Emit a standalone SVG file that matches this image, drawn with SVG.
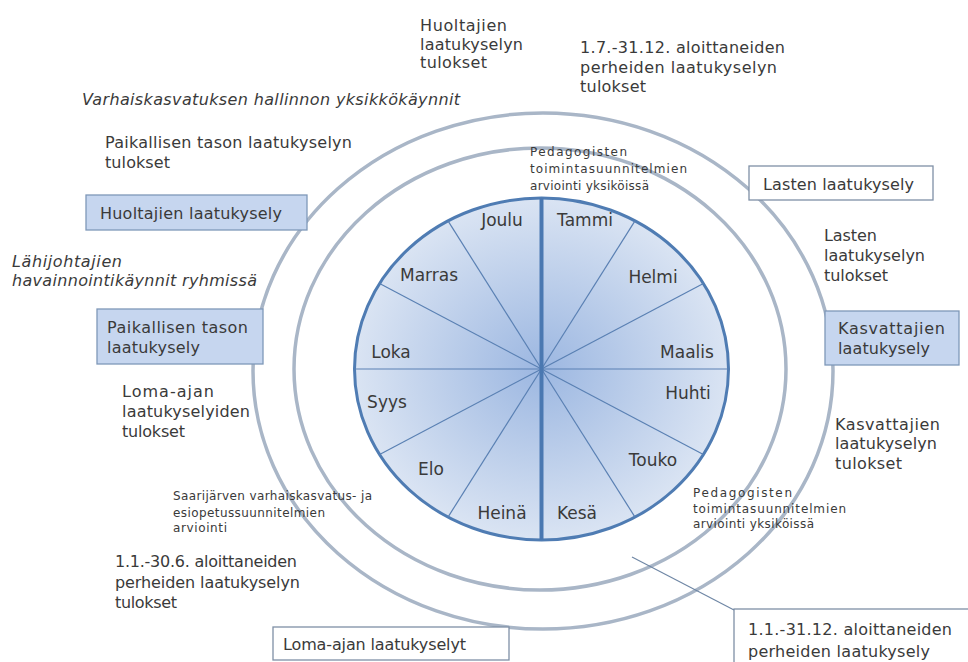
<svg xmlns="http://www.w3.org/2000/svg" width="968" height="662" viewBox="0 0 968 662">
<style>
text{font-family:"DejaVu Sans","Liberation Sans",sans-serif;fill:#3a3a3a}
.t{font-size:16px}
.i{font-size:16px;font-style:italic}
.s{font-size:12px}
.m{font-size:17px;text-anchor:middle}
.ring{fill:none;stroke:#a9b6c7;stroke-width:3.5}
.boxb{fill:#c6d6ef;stroke:#7f98b8;stroke-width:1.3}
.boxw{fill:#ffffff;stroke:#7f90a6;stroke-width:1.3}
.spoke{stroke:#5a80b3;stroke-width:1.2}
</style>
<defs>
<radialGradient id="wheelFill" cx="50%" cy="50%" r="50%">
<stop offset="0" stop-color="#9cb7e1"/>
<stop offset="1" stop-color="#dae4f3"/>
</radialGradient>
</defs>
<rect width="968" height="662" fill="#ffffff"/>

<g id="rings">
<ellipse class="ring" cx="543" cy="371" rx="290" ry="258"/>
<ellipse class="ring" cx="540" cy="369" rx="246" ry="221"/>
</g>

<g id="wheel">
<ellipse cx="541.5" cy="369" rx="187" ry="171" fill="url(#wheelFill)" stroke="#4f7cb3" stroke-width="3"/>
<line class="spoke" x1="541.5" y1="369" x2="635" y2="220.9"/>
<line class="spoke" x1="541.5" y1="369" x2="703.4" y2="283.5"/>
<line class="spoke" x1="541.5" y1="369" x2="728.5" y2="369"/>
<line class="spoke" x1="541.5" y1="369" x2="703.4" y2="454.5"/>
<line class="spoke" x1="541.5" y1="369" x2="635" y2="517.1"/>
<line class="spoke" x1="541.5" y1="369" x2="448" y2="517.1"/>
<line class="spoke" x1="541.5" y1="369" x2="379.6" y2="454.5"/>
<line class="spoke" x1="541.5" y1="369" x2="354.5" y2="369"/>
<line class="spoke" x1="541.5" y1="369" x2="379.6" y2="283.5"/>
<line class="spoke" x1="541.5" y1="369" x2="448" y2="220.9"/>
<line x1="541.5" y1="198" x2="541.5" y2="540" stroke="#4a78b1" stroke-width="4"/>
<text class="m" x="502" y="226">Joulu</text>
<text class="m" x="585" y="226">Tammi</text>
<text class="m" x="653" y="283">Helmi</text>
<text class="m" x="429" y="281">Marras</text>
<text class="m" x="391" y="358">Loka</text>
<text class="m" x="687" y="358">Maalis</text>
<text class="m" x="387" y="408">Syys</text>
<text class="m" x="688" y="399">Huhti</text>
<text class="m" x="431" y="475">Elo</text>
<text class="m" x="653" y="466">Touko</text>
<text class="m" x="502" y="519">Heinä</text>
<text class="m" x="577" y="519">Kesä</text>
</g>

<g id="n-huoltajien-tulokset">
<text class="t" x="420" y="31" textLength="87">Huoltajien</text>
<text class="t" x="420" y="50" textLength="103">laatukyselyn</text>
<text class="t" x="420" y="68" textLength="67">tulokset</text>
</g>

<g id="n-17-3112-tulokset">
<text class="t" x="580" y="53" textLength="205">1.7.-31.12. aloittaneiden</text>
<text class="t" x="580" y="73" textLength="197">perheiden laatukyselyn</text>
<text class="t" x="580" y="92" textLength="66">tulokset</text>
</g>

<g id="n-hallinto">
<text class="i" x="82" y="105" textLength="378">Varhaiskasvatuksen hallinnon yksikkökäynnit</text>
</g>

<g id="n-paikallinen-tulokset">
<text class="t" x="105" y="148" textLength="247">Paikallisen tason laatukyselyn</text>
<text class="t" x="105" y="168" textLength="65">tulokset</text>
</g>

<g id="n-pedagogiset-top">
<text class="s" x="530" y="156" textLength="97">Pedagogisten</text>
<text class="s" x="530" y="173" textLength="157">toimintasuunnitelmien</text>
<text class="s" x="530" y="190" textLength="119">arviointi yksiköissä</text>
</g>

<g id="n-lasten-kysely">
<rect class="boxw" x="749" y="166" width="184" height="34"/>
<text class="t" x="763" y="190" textLength="151">Lasten laatukysely</text>
</g>

<g id="n-huoltajien-kysely">
<rect class="boxb" x="86" y="195" width="221" height="35"/>
<text class="t" x="100" y="219" textLength="182">Huoltajien laatukysely</text>
</g>

<g id="n-lahijohtajat">
<text class="i" x="12" y="267" textLength="110">Lähijohtajien</text>
<text class="i" x="12" y="286" textLength="245">havainnointikäynnit ryhmissä</text>
</g>

<g id="n-paikallinen-kysely">
<rect class="boxb" x="97" y="309" width="166" height="55"/>
<text class="t" x="107" y="333" textLength="141">Paikallisen tason</text>
<text class="t" x="107" y="353" textLength="93">laatukysely</text>
</g>

<g id="n-loma-tulokset">
<text class="t" x="122" y="397" textLength="92">Loma-ajan</text>
<text class="t" x="122" y="417" textLength="128">laatukyselyiden</text>
<text class="t" x="122" y="437" textLength="63">tulokset</text>
</g>

<g id="n-lasten-tulokset">
<text class="t" x="824" y="241" textLength="53">Lasten</text>
<text class="t" x="824" y="261" textLength="101">laatukyselyn</text>
<text class="t" x="824" y="281" textLength="64">tulokset</text>
</g>

<g id="n-kasvattajien-kysely">
<rect class="boxb" x="825" y="311" width="134" height="54"/>
<text class="t" x="838" y="334" textLength="107">Kasvattajien</text>
<text class="t" x="838" y="354" textLength="92">laatukysely</text>
</g>

<g id="n-kasvattajien-tulokset">
<text class="t" x="835" y="430" textLength="105">Kasvattajien</text>
<text class="t" x="835" y="449" textLength="102">laatukyselyn</text>
<text class="t" x="835" y="469" textLength="67">tulokset</text>
</g>

<g id="n-saarijarvi">
<text class="s" x="173" y="500" textLength="199">Saarijärven varhaiskasvatus- ja</text>
<text class="s" x="173" y="517" textLength="152">esiopetussuunnitelmien</text>
<text class="s" x="173" y="532" textLength="54">arviointi</text>
</g>

<g id="n-11-306-tulokset">
<text class="t" x="115" y="567" textLength="182">1.1.-30.6. aloittaneiden</text>
<text class="t" x="115" y="588" textLength="185">perheiden laatukyselyn</text>
<text class="t" x="115" y="608" textLength="62">tulokset</text>
</g>

<g id="n-loma-kysely">
<rect class="boxw" x="273" y="627" width="236" height="33"/>
<text class="t" x="283" y="650" textLength="183">Loma-ajan laatukyselyt</text>
</g>

<g id="n-pedagogiset-bottom">
<text class="s" x="693" y="497" textLength="99">Pedagogisten</text>
<text class="s" x="693" y="513" textLength="153">toimintasuunnitelmien</text>
<text class="s" x="693" y="528" textLength="121">arviointi yksiköissä</text>
</g>

<g id="n-11-3112-kysely">
<rect class="boxw" x="734" y="609" width="240" height="60"/>
<text class="t" x="748" y="635" textLength="204">1.1.-31.12. aloittaneiden</text>
<text class="t" x="748" y="657" textLength="182">perheiden laatukysely</text>
</g>

<g id="connectors">
<line x1="632" y1="557" x2="734" y2="610" stroke="#6f87a5" stroke-width="1.2"/>
</g>
</svg>
